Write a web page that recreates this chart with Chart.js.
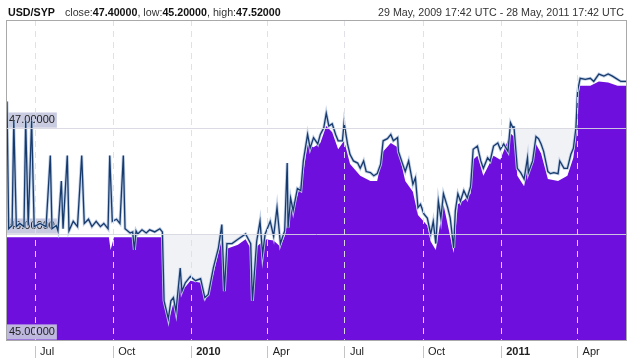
<!DOCTYPE html>
<html>
<head>
<meta charset="utf-8">
<title>USD/SYP</title>
<script src="https://cdn.jsdelivr.net/npm/chart.js@4.4.0/dist/chart.umd.min.js"></script>
<style>
  body { margin: 0; background: #fff; }
  #wrap { position: relative; width: 634px; height: 360px; font-family: Arial, "Liberation Sans", sans-serif; }
  .hdr { position: absolute; top: 5px; font-size: 10.7px; line-height: 14px; color: #333; white-space: nowrap; }
  #hdrLeft { left: 8px; }
  #hdrRight { right: 10px; }
  #hdrLeft b { color: #111; }
  #pair { margin-right: 10px; }
  canvas { position: absolute; left: 0; top: 0; }
</style>
</head>
<body>
<div id="wrap">
  <canvas id="myChart" width="634" height="360"></canvas>
  <div class="hdr" id="hdrLeft"><b id="pair">USD/SYP</b>close:<b>47.40000</b>, low:<b>45.20000</b>, high:<b>47.52000</b></div>
  <div class="hdr" id="hdrRight">29 May, 2009 17:42 UTC - 28 May, 2011 17:42 UTC</div>
</div>
<script>
// days counted from 29 May 2009
var highDays = [
  0,2,6,8,11,15,20,22,25,29,
  32,39,46,51,53,58,60,64,66,71,
  73,78,83,88,91,96,100,105,110,114,
  119,121,124,129,133,137,139,145,148,150,
  152,154,159,164,168,174,180,183,185,190,
  193,196,199,204,206,210,216,222,228,233,
  237,243,249,253,256,259,265,272,281,287,
  289,294,298,301,304,310,314,318,322,327,
  330,331,334,337,342,346,349,354,357,361,
  366,369,373,376,379,383,387,390,395,397,
  401,404,408,413,416,420,423,428,432,436,
  440,443,448,452,455,460,461,466,469,473,
  478,481,484,487,491,495,499,502,505,508,
  511,514,519,522,526,528,531,534,538,542,
  546,549,554,558,561,566,569,573,578,581,
  585,590,593,596,597,601,605,609,613,614,
  619,623,626,629,632,637,640,644,649,651,
  656,660,664,667,670,672,675,681,687,691,
  697,703,708,713,719,723,729
];
var highVals = [
  47.25,46.05,46.08,47.07,46.07,46.10,46.07,47.07,46.08,47.07,
  46.07,46.10,46.07,46.74,46.05,46.08,46.03,46.50,46.05,46.74,
  46.03,46.12,46.07,46.74,46.10,46.14,46.07,46.12,46.07,46.10,
  46.05,46.74,46.12,46.14,46.10,46.74,46.05,46.01,46.02,45.85,
  46.03,46.00,46.04,46.01,46.04,46.02,46.05,46.02,45.37,45.20,
  45.37,45.40,45.27,45.68,45.46,45.54,45.60,45.56,45.58,45.40,
  45.43,45.68,45.87,46.09,45.46,45.91,45.91,45.95,46.00,45.91,
  45.37,45.93,46.12,45.81,46.00,46.12,45.98,46.25,45.91,46.03,
  46.67,46.06,46.34,46.22,46.43,46.41,46.69,46.94,46.81,46.91,
  46.85,46.94,47.00,47.14,47.02,47.04,46.94,46.88,46.88,47.05,
  46.85,46.75,46.69,46.67,46.62,46.69,46.59,46.58,46.55,46.57,
  46.66,46.88,46.90,46.94,46.88,46.91,46.78,46.66,46.59,46.69,
  46.47,46.53,46.25,46.28,46.19,46.15,46.00,46.12,45.91,46.31,
  46.15,46.38,46.25,46.15,45.87,46.22,46.38,46.31,46.41,46.34,
  46.45,46.80,46.83,46.69,46.62,46.72,46.69,46.83,46.86,46.80,
  46.85,46.78,47.05,47.00,47.02,46.62,46.58,46.52,46.72,46.58,
  46.69,46.92,46.90,46.85,46.78,46.59,46.57,46.58,46.57,46.69,
  46.62,46.62,46.75,46.81,47.00,47.35,47.47,47.46,47.47,47.44,
  47.51,47.49,47.51,47.49,47.46,47.44,47.44
];

var closeDays = [
  0,120,122,126,148,150,152,183,185,190,
  196,204,210,216,228,233,243,249,253,259,
  272,281,287,294,304,314,322,327,334,342,
  349,354,361,369,376,383,390,397,404,416,
  428,436,443,452,460,469,478,484,495,499,
  505,514,526,531,538,546,549,554,561,573,
  581,593,597,601,609,613,623,629,637,649,
  660,667,670,672,675,687,697,708,719,729
];
var closeVals = [
  45.97,45.97,45.85,45.97,45.97,45.85,45.97,45.97,45.33,45.17,
  45.35,45.62,45.50,45.56,45.54,45.36,45.62,45.82,45.95,45.86,
  45.90,45.95,45.86,45.88,45.95,45.94,45.88,45.98,46.26,46.36,
  46.58,46.84,46.82,46.86,47.02,46.96,46.80,46.88,46.66,46.55,
  46.50,46.50,46.78,46.86,46.82,46.50,46.40,46.18,46.08,45.93,
  45.85,46.28,45.82,46.28,46.32,46.38,46.70,46.74,46.55,46.74,
  46.70,46.95,46.92,46.55,46.45,46.62,46.85,46.76,46.52,46.50,
  46.55,46.72,46.92,47.28,47.40,47.40,47.44,47.43,47.40,47.40
];

// light shaded stretches under the gridline above the line
var bandDays = [184, 327, 328, 598, 670];
var bandVals = [46, 46, null, 47, 47];

var tickDays = [33, 125, 217, 307, 398, 490, 582, 672];
var tickLabels = ['Jul', 'Oct', '2010', 'Apr', 'Jul', 'Oct', '2011', 'Apr'];
var yearTicks = ['2010', '2011'];
var yTicks = [45, 46, 47];

function pairs(xs, ys) {
  var out = [];
  for (var i = 0; i < xs.length; i++) {
    out.push({x: xs[i], y: ys[i]});
  }
  return out;
}

var frame = {
  id: 'frame',
  afterDraw: function(chart) {
    var a = chart.chartArea, c = chart.ctx;
    c.save();
    c.strokeStyle = '#a9a9a9';
    c.lineWidth = 1;
    c.strokeRect(a.left - 0.5, a.top + 0.5, a.right - a.left + 1, a.bottom - a.top);
    c.restore();
  }
};

var fontFam = 'Arial, "Liberation Sans", sans-serif';
var highData = pairs(highDays, highVals);

var ctx = document.getElementById('myChart').getContext('2d');
var myChart = new Chart(ctx, {
  type: 'line',
  data: {
    datasets: [{
      label: 'close',
      data: pairs(closeDays, closeVals),
      borderWidth: 0,
      backgroundColor: '#6f0fde',
      fill: 'start',
      order: 4
    }, {
      label: 'band',
      data: pairs(bandDays, bandVals),
      borderWidth: 0,
      backgroundColor: '#f1f2f6',
      fill: 3,
      spanGaps: false,
      order: 3
    }, {
      label: 'halo',
      data: highData,
      borderColor: 'rgba(190,205,230,0.95)',
      borderWidth: 3,
      fill: false,
      order: 2
    }, {
      label: 'high',
      data: highData,
      borderColor: '#173a6c',
      borderWidth: 1.3,
      fill: false,
      order: 1
    }]
  },
  options: {
    responsive: false,
    animation: false,
    elements: { point: { radius: 0 }, line: { tension: 0 } },
    layout: { padding: { left: 7, right: 8, top: 20, bottom: 0 } },
    plugins: {
      legend: { display: false },
      tooltip: { enabled: false },
      // fills first, then the price labels, then the lines
      filler: { drawTime: 'beforeDraw' }
    },
    scales: {
      x: {
        type: 'linear',
        min: 0,
        max: 729,
        afterFit: function(scale) { scale.height = 20; },
        afterBuildTicks: function(scale) {
          scale.ticks = tickDays.map(function(d, i) {
            return {value: d, major: yearTicks.indexOf(tickLabels[i]) >= 0};
          });
        },
        border: { display: false, dash: [6, 5] },
        grid: {
          z: 1,
          color: 'rgba(222,222,232,0.95)',
          tickLength: 18,
          tickColor: '#c4c4c4',
          tickBorderDash: [0, 6, 12, 0]
        },
        ticks: {
          autoSkip: false,
          maxRotation: 0,
          align: 'start',
          labelOffset: 5,
          padding: -13,
          color: '#222',
          font: function(c) {
            var bold = c.tick && c.tick.major;
            return { family: fontFam, size: 11, weight: bold ? 'bold' : 'normal' };
          },
          callback: function(value, index) { return tickLabels[index]; }
        }
      },
      y: {
        min: 45,
        max: 48.02,
        afterFit: function(scale) { scale.width = 0; },
        afterBuildTicks: function(scale) {
          scale.ticks = yTicks.map(function(v) { return {value: v}; });
        },
        border: { display: false },
        grid: { z: 1, color: 'rgba(215,215,225,0.9)', drawTicks: false },
        ticks: {
          autoSkip: false,
          mirror: true,
          padding: 2,
          labelOffset: -8,
          color: '#222',
          font: { family: fontFam, size: 11 },
          showLabelBackdrop: true,
          backdropColor: 'rgba(196,199,221,0.92)',
          backdropPadding: { top: 1, bottom: 1, left: 2, right: 2 },
          callback: function(v) { return v.toFixed(5); }
        }
      }
    }
  },
  plugins: [frame]
});
</script>
</body>
</html>
